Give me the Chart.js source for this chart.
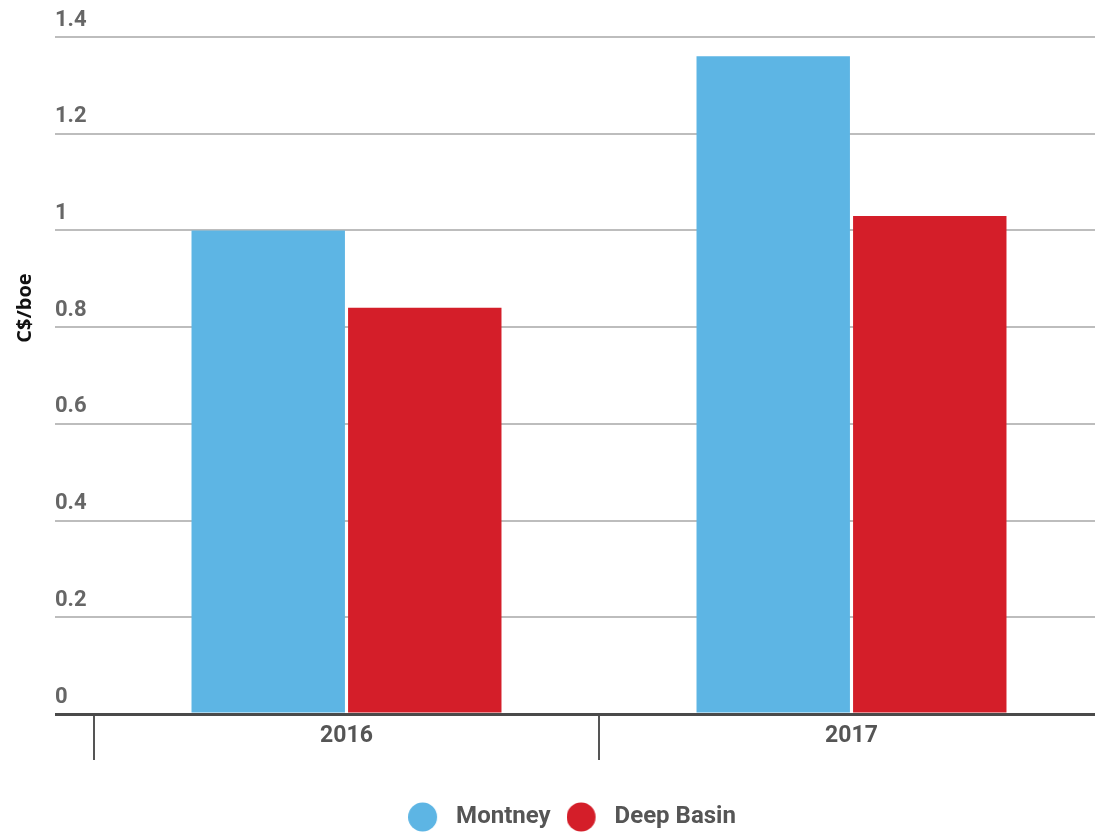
<!DOCTYPE html>
<html>
<head>
<meta charset="utf-8">
<title>Montney vs Deep Basin</title>
<script src="https://cdn.jsdelivr.net/npm/chart.js@4/dist/chart.umd.min.js"></script>
<style>
  html, body { margin: 0; padding: 0; background: #fff; overflow: hidden; }
  #wrap { position: relative; width: 1144px; height: 839px; }
</style>
</head>
<body>
<div id="wrap"><canvas id="chart"></canvas></div>
<script>
// Years on the category axis
const years = ['2016', '2017'];
// C$/boe per play
const montney = [1.0, 1.36];
const deepBasin = [0.84, 1.03];
// Value axis
const yMin = 0;
const yMax = 1.4;
const yStep = 0.2;
const yTitle = 'C$/boe';
const seriesNames = ['Montney', 'Deep Basin'];

const BLUE = '#5db5e4';
const RED = '#d41e29';

// Round legend swatch with extra room on its right side
function swatch(color) {
  const c = document.createElement('canvas');
  c.width = 36; c.height = 30;
  const g = c.getContext('2d');
  g.fillStyle = color;
  g.beginPath();
  g.arc(14.5, 15, 14.5, 0, Math.PI * 2);
  g.fill();
  return c;
}

// Rotated axis title at the left edge
const sideTitle = {
  id: 'sideTitle',
  afterDraw(chart) {
    const ctx = chart.ctx;
    ctx.save();
    ctx.translate(25, 308);
    ctx.rotate(-Math.PI / 2);
    ctx.font = 'bold 20px "Open Sans", sans-serif';
    ctx.fillStyle = '#111';
    ctx.textAlign = 'center';
    ctx.textBaseline = 'middle';
    ctx.fillText(yTitle, 0, 0);
    ctx.restore();
  }
};

new Chart(document.getElementById('chart'), {
  type: 'bar',
  data: {
    labels: years,
    datasets: [
      { label: seriesNames[0], data: montney, backgroundColor: BLUE, pointStyle: swatch(BLUE) },
      { label: seriesNames[1], data: deepBasin, backgroundColor: RED, pointStyle: swatch(RED) }
    ]
  },
  options: {
    responsive: true,
    maintainAspectRatio: false,
    animation: false,
    layout: { padding: { left: 40, right: 40, top: 37, bottom: 0 } },
    datasets: {
      bar: { categoryPercentage: 0.62, barPercentage: 0.98 }
    },
    plugins: {
      tooltip: { enabled: false },
      legend: {
        position: 'bottom',
        labels: {
          usePointStyle: true,
          pointStyleWidth: 36,
          padding: 16,
          color: '#555',
          font: { family: 'Roboto', size: 24, weight: 'bold' }
        }
      }
    },
    scales: {
      x: {
        border: { display: false },
        grid: {
          offset: true,
          drawOnChartArea: false,
          drawTicks: true,
          tickLength: 46,
          color: '#555',
          lineWidth: 2
        },
        ticks: {
          padding: -38,
          color: '#555',
          font: { family: 'Roboto', size: 23, weight: 'bold' }
        },
        afterFit(scale) { scale.height = 75; }
      },
      y: {
        min: yMin,
        max: yMax,
        border: { display: false },
        grid: {
          color: (c) => (c.tick && c.tick.value === 0 ? '#4a4a4a' : '#bdbdbd'),
          lineWidth: (c) => (c.tick && c.tick.value === 0 ? 3 : 2),
          tickLength: 39
        },
        ticks: {
          stepSize: yStep,
          mirror: true,
          padding: -39,
          labelOffset: -17,
          color: '#666',
          font: { family: 'Roboto', size: 22, weight: 'bold' },
          callback: (v) => String(Number(v.toFixed(2)))
        },
        afterFit(scale) { scale.width = 54; }
      }
    }
  },
  plugins: [sideTitle]
});
</script>
</body>
</html>
